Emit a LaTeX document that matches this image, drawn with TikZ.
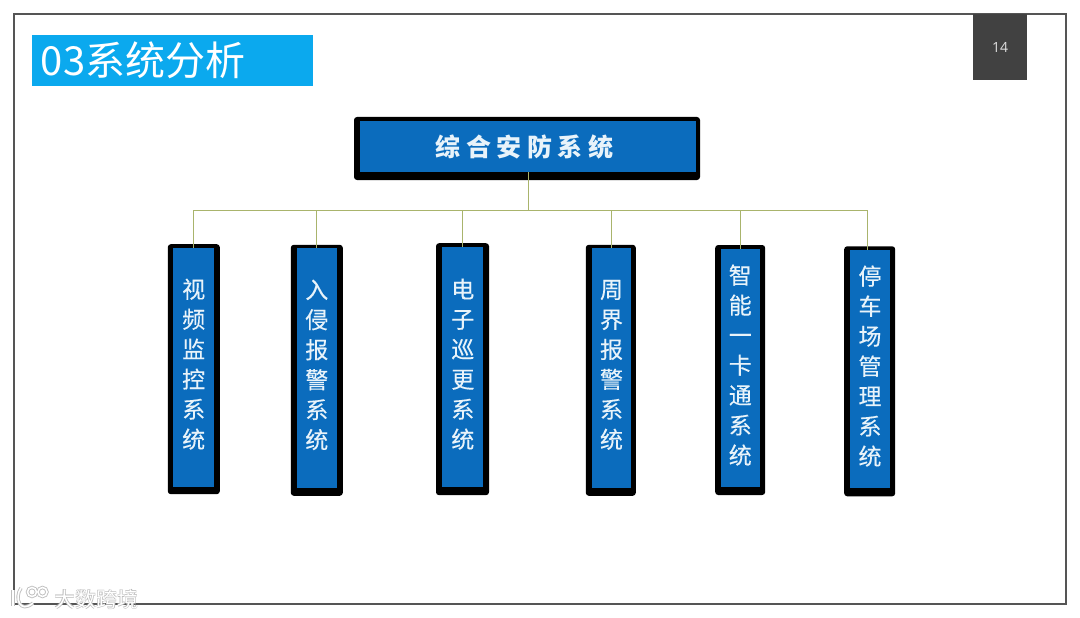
\documentclass[tikz,border=0pt]{standalone}
\usepackage{fontspec}
\usepackage{xcolor}
\usepackage{tikz}
\setmainfont{Noto Sans CJK SC}
\newfontfamily\rootfont[LetterSpace=22]{Noto Sans CJK SC}
\newfontfamily\stemfont[FakeBold=0.25]{Noto Sans CJK SC}
\newfontfamily\pagefont{Open Sans}
\newcommand{\lift}{\rule[-8pt]{0pt}{8pt}}
\definecolor{sysblue}{HTML}{0B6CBD}
\definecolor{titleblue}{HTML}{0BA9EE}
\definecolor{linkgreen}{HTML}{A9B46C}
\definecolor{framegray}{HTML}{555555}
\definecolor{pagegray}{HTML}{414141}
\definecolor{textwhite}{HTML}{E8F3FA}

\begin{document}
\begin{tikzpicture}[
  x=1pt, y=-1pt,
  shell/.style={
    fill=black, rounded corners=3pt, inner sep=0pt, outer sep=0pt
  },
  face/.style={
    fill=sysblue, inner sep=0pt, outer sep=0pt,
    align=center, text=textwhite
  },
  stem/.style={minimum width=#1, font=\fontsize{23}{30}\stemfont},
  link/.style={draw=linkgreen, line width=0.9pt},
  mark shadow/.style={text=black!28, font=\fontsize{21}{21}\selectfont\bfseries}
]
  \useasboundingbox (0,0) rectangle (1080,618);

  % Slide frame, heading and page tab
  \node[draw=framegray, line width=1.2pt, minimum width=1052, minimum height=590,
        inner sep=0pt] (frame) at (540,309) {};
  \node[fill=titleblue, text=white, minimum width=281, minimum height=51, text width=263,
        inner xsep=9pt, inner ysep=0pt, align=left, font=\fontsize{40}{42}\selectfont]
        (title) at (172.5,60.5) {\raisebox{-2pt}{03系统分析}};
  \node[fill=pagegray, text=white!88!black, minimum width=54, minimum height=66,
        inner sep=0pt, font=\fontsize{14}{14}\pagefont] (page) at (1000,47) {14};

  % Root box
  \node[shell, minimum width=346, minimum height=63] (rootbg) at (527,148.5) {};
  \node[face, minimum width=336, minimum height=51,
        font=\fontsize{25}{26}\rootfont\bfseries] (root) at (528,146.5) {综合安防系统\hspace{7pt}};

  % Six subsystem columns
  \node[shell, minimum width=52, minimum height=250] (videobg) at (193.8,369.2) {};
  \node[shell, minimum width=52, minimum height=251] (intrudebg) at (316.8,370.3) {};
  \node[shell, minimum width=53, minimum height=252] (patrolbg) at (462.5,369.2) {};
  \node[shell, minimum width=50, minimum height=251] (borderbg) at (610.8,370.3) {};
  \node[shell, minimum width=50, minimum height=250] (cardbg) at (740.2,370) {};
  \node[shell, minimum width=51, minimum height=250] (parkbg) at (869.7,371.3) {};

  \node[face, stem=41, minimum height=239] (video) at (193.7,367.3)
    {视\\频\\监\\控\\系\\统\lift};
  \node[face, stem=40, minimum height=240] (intrude) at (316.8,368)
    {入\\侵\\报\\警\\系\\统\lift};
  \node[face, stem=41, minimum height=240] (patrol) at (462.8,367.3)
    {电\\子\\巡\\更\\系\\统\lift};
  \node[face, stem=39, minimum height=240] (border) at (611.5,368)
    {周\\界\\报\\警\\系\\统\lift};
  \node[face, stem=39, minimum height=238] (card) at (740.3,368.2)
    {智\\能\\一\\卡\\通\\系\\统\lift};
  \node[face, stem=40, minimum height=238] (park) at (870,369.2)
    {停\\车\\场\\管\\理\\系\\统\lift};

  % Tree lines
  \coordinate (trunk) at (528,210);
  \draw[link] (root.south) -- (trunk);
  \draw[link] (trunk) -| (video.north);
  \draw[link] (trunk) -| (intrude.north);
  \draw[link] (trunk) -| (patrol.north);
  \draw[link] (trunk) -| (border.north);
  \draw[link] (trunk) -| (card.north);
  \draw[link] (trunk) -| ([xshift=-2.5pt]park.north);

  % Watermark
  \node[mark shadow] (markbg) at (96.5,599.5) {大数跨境};
  \node[text=white, font=\fontsize{21}{21}\selectfont] (mark) at (96,599) {大数跨境};
  \coordinate (loopa) at (32,592);
  \coordinate (loopb) at (42.5,592);
  \coordinate (hooka) at (13,590);
  \coordinate (hookb) at (13,606);
  \coordinate (cupa) at (21,588);
  \coordinate (cupb) at (33,603);
  \foreach \w/\c in {3.4/black!25, 1.6/white} {
    \draw[line width=\w pt, \c] (loopa) circle (4.5);
    \draw[line width=\w pt, \c] (loopb) circle (4.5);
    \draw[line width=\w pt, \c] (hooka) -- (hookb);
    \draw[line width=\w pt, \c] (cupa) .. controls (14,598) and (20,614) .. (cupb);
  }
\end{tikzpicture}
\end{document}
